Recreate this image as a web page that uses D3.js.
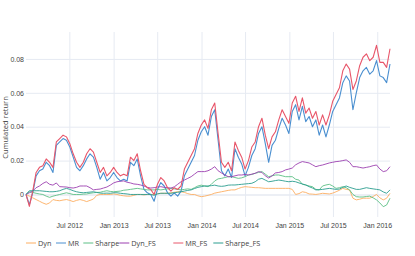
<!DOCTYPE html>
<html>
<head>
<meta charset="utf-8">
<script src="https://cdn.jsdelivr.net/npm/d3@7"></script>
<style>
  body { margin: 0; background: white; }
  svg { display: block; font-family: "Open Sans", sans-serif; }
</style>
</head>
<body>
<svg></svg>
<script>
// one point every two weeks, from 3 Jan 2012
const startDate = new Date(2012, 0, 3)
const stepDays = 14

const seriesNames = ["Dyn", "MR", "Sharpe", "Dyn_FS", "MR_FS", "Sharpe_FS"]
const colors = ["#fdae61", "#4a8fd0", "#5cbf85", "#9c3fb0", "#e8566a", "#2a9d8f"]

const dyn = [
  0, -0.001, -0.002, -0.003, -0.004, -0.005, -0.0058, -0.005, -0.003, -0.0035,
  -0.0037, -0.0033, -0.003, -0.0035, -0.0042, -0.0035, -0.003, -0.0035, -0.0042, -0.0035,
  -0.0027, -0.0005, 0, 0, 0, 0, 0.0003, 0, -0.0005, -0.0008,
  -0.001, -0.001, -0.0005, 0, 0, -0.0003, 0, 0, 0, 0.0005,
  0.0007, 0.0007, 0.0007, 0.001, 0.0013, 0.0016, 0.0016, 0.0012, 0.0005, 0,
  0, -0.0008, -0.0013, -0.001, -0.0005, 0, 0.0008, 0.0012, 0.0016, 0.002,
  0.0024, 0.0027, 0.0027, 0.0035, 0.0042, 0.0046, 0.0044, 0.0042, 0.004, 0.004,
  0.0038, 0.0036, 0.0036, 0.0036, 0.0036, 0.0036, 0.0036, 0.0036, 0.0036, 0.003,
  0, 0.0005, 0.0016, 0.0012, 0.0003, 0.0002, 0, 0.0003, 0.0007, 0.0005,
  0.0003, 0.0008, 0.0016, 0.0025, 0.0036, 0.003, 0.0027, -0.0022, -0.0032, -0.0028,
  -0.0022, -0.0022, -0.0022, -0.0012, 0, -0.002, -0.0032, -0.0022, 0.0007,
]
const mr = [
  0, -0.006, 0.001, 0.011, 0.014, 0.015, 0.019, 0.017, 0.013, 0.029,
  0.031, 0.033, 0.032, 0.028, 0.022, 0.016, 0.014, 0.017, 0.021, 0.024,
  0.022, 0.016, 0.009, 0.013, 0.008, 0.01, 0.013, 0.01, 0.008, 0.009,
  0.008, 0.019, 0.017, 0.021, 0.011, 0.003, 0.001, 0, -0.004, 0.003,
  0.007, 0.005, 0.001, -0.001, 0.001, -0.001, 0.002, 0.011, 0.015, 0.019,
  0.023, 0.032, 0.037, 0.04, 0.035, 0.046, 0.05, 0.032, 0.014, 0.011,
  0.015, 0.01, 0.027, 0.022, 0.018, 0.011, 0.016, 0.023, 0.027, 0.036,
  0.04, 0.03, 0.019, 0.029, 0.032, 0.039, 0.045, 0.041, 0.036, 0.049,
  0.053, 0.044, 0.052, 0.043, 0.046, 0.04, 0.044, 0.035, 0.041, 0.034,
  0.041, 0.049, 0.053, 0.057, 0.066, 0.07, 0.067, 0.05, 0.06, 0.069,
  0.073, 0.075, 0.071, 0.073, 0.079, 0.07, 0.069, 0.066, 0.077,
]
const sharpe = [
  0, 0.0016, 0.0012, 0.0007, 0.0003, 0, -0.001, -0.0017, -0.001, -0.0005,
  0, 0.0005, 0.001, 0.0005, 0, 0, 0, 0.0002, 0.0003, 0.0007,
  0.001, 0.0012, 0.0013, 0.0018, 0.0022, 0.0018, 0.0016, 0.0018, 0.002, 0.0025,
  0.0027, 0.003, 0.0033, 0.0036, 0.0033, 0.003, 0.0027, 0.0027, 0.0027, 0.003,
  0.0027, 0.003, 0.0033, 0.0036, 0.0033, 0.003, 0.0027, 0.003, 0.0033, 0.003,
  0.004, 0.005, 0.0055, 0.005, 0.0046, 0.006, 0.008, 0.0092, 0.0095, 0.01,
  0.0105, 0.0105, 0.01, 0.0095, 0.0098, 0.0105, 0.0115, 0.0118, 0.0125, 0.013,
  0.0135, 0.012, 0.0105, 0.011, 0.0115, 0.0115, 0.011, 0.0105, 0.0105, 0.0105,
  0.009, 0.0085, 0.006, 0.0056, 0.005, 0.0046, 0.003, 0.0027, 0.005, 0.0056,
  0.006, 0.005, 0.0036, 0.004, 0.0046, 0.004, 0.0027, 0, -0.0013, -0.0015,
  -0.0015, -0.0012, -0.001, -0.002, -0.0032, -0.005, -0.0072, -0.0062, -0.0022,
]
const dynFS = [
  0, 0.001, 0.002, 0.004, 0.005, 0.0065, 0.0075, 0.006, 0.0055, 0.0068,
  0.0046, 0.0045, 0.0044, 0.004, 0.0038, 0.0042, 0.005, 0.005, 0.005, 0.004,
  0.0027, 0.003, 0.0032, 0.0038, 0.0044, 0.0055, 0.0068, 0.0075, 0.0078, 0.008,
  0.0072, 0.0068, 0.0062, 0.006, 0.0056, 0.005, 0.0042, 0.0038, 0.004, 0.0044,
  0.0046, 0.0042, 0.004, 0.0038, 0.0045, 0.006, 0.0075, 0.0085, 0.0095, 0.0105,
  0.012, 0.0135, 0.0135, 0.0135, 0.014, 0.015, 0.0164, 0.014, 0.0127, 0.0115,
  0.0105, 0.0105, 0.011, 0.0115, 0.0115, 0.0118, 0.0115, 0.012, 0.0125, 0.0135,
  0.013, 0.011, 0.0097, 0.011, 0.0127, 0.013, 0.0135, 0.0145, 0.015, 0.0156,
  0.0175, 0.0186, 0.0194, 0.019, 0.0186, 0.0175, 0.0164, 0.017, 0.0174, 0.018,
  0.0186, 0.019, 0.0194, 0.0196, 0.02, 0.0204, 0.019, 0.0164, 0.0164, 0.016,
  0.0156, 0.016, 0.0164, 0.017, 0.0174, 0.015, 0.0135, 0.014, 0.0164,
]
const mrFS = [
  0, -0.007, 0.002, 0.013, 0.016, 0.017, 0.021, 0.019, 0.016, 0.031,
  0.033, 0.035, 0.034, 0.03, 0.024, 0.019, 0.016, 0.019, 0.024, 0.027,
  0.025, 0.019, 0.013, 0.016, 0.011, 0.013, 0.016, 0.013, 0.011, 0.012,
  0.011, 0.022, 0.02, 0.024, 0.014, 0.006, 0.004, 0.003, 0, 0.006,
  0.01, 0.008, 0.004, 0.002, 0.004, 0.003, 0.005, 0.015, 0.019, 0.023,
  0.027, 0.036, 0.041, 0.044, 0.039, 0.05, 0.054, 0.036, 0.019, 0.016,
  0.019, 0.014, 0.031, 0.026, 0.022, 0.015, 0.02, 0.028, 0.031, 0.04,
  0.045, 0.035, 0.027, 0.034, 0.037, 0.044, 0.05, 0.046, 0.042, 0.054,
  0.058, 0.049, 0.057, 0.048, 0.051, 0.045, 0.049, 0.041, 0.047, 0.041,
  0.047, 0.055, 0.059, 0.063, 0.073, 0.077, 0.074, 0.062, 0.067, 0.076,
  0.081, 0.083, 0.079, 0.081, 0.088, 0.078, 0.078, 0.075, 0.086,
]
const sharpeFS = [
  0, 0.0022, 0.0022, 0.0022, 0.0022, 0.002, 0.0018, 0.0016, 0.0016, 0.0018,
  0.0022, 0.003, 0.0036, 0.003, 0.0022, 0.0016, 0.0012, 0.001, 0.0012, 0.0014,
  0.0016, 0.0012, 0.0008, 0.0007, 0.0008, 0.0007, 0.001, 0.001, 0.0007, 0.0005,
  0.0003, 0, 0, 0, 0, 0, 0, 0, -0.0005, 0.0003,
  0.0007, 0.0007, 0.0007, 0.0007, 0.001, 0.0013, 0.0016, 0.002, 0.0024, 0.0027,
  0.0035, 0.0042, 0.0046, 0.005, 0.005, 0.0052, 0.0055, 0.005, 0.0048, 0.005,
  0.0055, 0.0056, 0.0056, 0.0058, 0.006, 0.0062, 0.0064, 0.0066, 0.0075, 0.009,
  0.0095, 0.0085, 0.0075, 0.0078, 0.0082, 0.0085, 0.0082, 0.0078, 0.0075, 0.0078,
  0.0075, 0.0068, 0.0062, 0.0056, 0.0046, 0.0038, 0.0027, 0.0028, 0.003, 0.0033,
  0.0036, 0.0033, 0.003, 0.0032, 0.0042, 0.005, 0.0042, 0.0036, 0.003, 0.003,
  0.0035, 0.004, 0.0036, 0.0033, 0.003, 0.0027, 0.0015, 0.0007, 0.0027,
]

const yTicks = [0, 0.02, 0.04, 0.06, 0.08]
const yTickLabels = ["0", "0.02", "0.04", "0.06", "0.08"]
const yTitle = "Cumulated return"

const svg = d3.select("svg")
const w = 415
const h = 256
const plotLeft = 26
const plotRight = 390
const plotTop = 32
const plotBottom = 217
const textColor = "#444"
const gridColor = "#e6eaf2"

const allSeries = [dyn, mr, sharpe, dynFS, mrFS, sharpeFS]
const dates = dyn.map((d, i) => d3.timeDay.offset(startDate, i * stepDays))

let xScale
let yScale

const drawCanvas = () => {
  svg.attr("width", w).attr("height", h).style("background-color", "white")
}

const drawChart = () => {
  xScale = d3.scaleTime().domain(d3.extent(dates)).range([plotLeft, plotRight])
  yScale = d3.scaleLinear().domain([-0.0133, 0.0959]).range([plotBottom, plotTop])

  // grid
  const xAxis = d3
    .axisBottom(xScale)
    .ticks(d3.timeMonth.every(6))
    .tickFormat(d3.timeFormat("%b %Y"))
    .tickSize(-(plotBottom - plotTop))
    .tickPadding(6)
  const gx = svg
    .append("g")
    .attr("id", "x-axis")
    .attr("transform", `translate(0,${plotBottom})`)
    .call(xAxis)
  gx.select(".domain").remove()
  gx.selectAll("line").attr("stroke", gridColor).attr("stroke-width", 1)
  gx.selectAll("text")
    .attr("fill", textColor)
    .style("font-size", "7px")

  const yAxis = d3
    .axisLeft(yScale)
    .tickValues(yTicks)
    .tickFormat((d, i) => yTickLabels[i])
    .tickSize(-(plotRight - plotLeft))
    .tickPadding(2)
  const gy = svg
    .append("g")
    .attr("id", "y-axis")
    .attr("transform", `translate(${plotLeft},0)`)
    .call(yAxis)
  gy.select(".domain").remove()
  gy.selectAll("line")
    .attr("stroke", gridColor)
    .attr("stroke-width", (d) => (d === 0 ? 1.6 : 1))
  gy.selectAll("text")
    .attr("fill", textColor)
    .style("font-size", "7px")

  svg
    .append("text")
    .attr("transform", `translate(8,${(plotTop + plotBottom) / 2 + 3}) rotate(-90)`)
    .attr("text-anchor", "middle")
    .attr("fill", textColor)
    .style("font-size", "7.5px")
    .text(yTitle)

  const line = d3
    .line()
    .x((d, i) => xScale(dates[i]))
    .y((d) => yScale(d))

  svg
    .append("g")
    .selectAll("path")
    .data(allSeries)
    .enter()
    .append("path")
    .attr("d", (d) => line(d))
    .attr("fill", "none")
    .attr("stroke", (d, i) => colors[i])
    .attr("stroke-width", (d, i) => (i === 1 || i === 4 ? 1.1 : 0.9))
    .attr("stroke-linejoin", "round")

  // legend
  const legendX = [26, 56, 83.3, 119.3, 173.3, 213.3]
  const legendY = 243
  const legend = svg
    .append("g")
    .attr("id", "legend")
    .selectAll("g")
    .data(seriesNames)
    .enter()
    .append("g")
    .attr("transform", (d, i) => `translate(${legendX[i]},${legendY})`)
  legend
    .append("line")
    .attr("x1", 0)
    .attr("x2", 10)
    .attr("stroke", (d, i) => colors[i])
    .attr("stroke-width", 1)
  legend
    .append("text")
    .attr("x", 12)
    .attr("y", 2.6)
    .attr("fill", textColor)
    .style("font-size", "7.3px")
    .text((d) => d)
}

drawCanvas()
drawChart()
</script>
</body>
</html>
